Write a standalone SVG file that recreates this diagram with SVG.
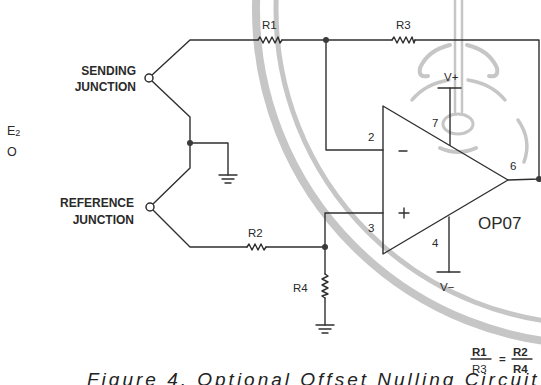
<svg xmlns="http://www.w3.org/2000/svg" width="541" height="385" viewBox="0 0 541 385">
  <style>
    .w { fill: none; stroke: #2f2f2f; stroke-width: 1.4; stroke-linejoin: round; stroke-linecap: round; }
    .dot { fill: #3a3a3a; }
    .jn { fill: #fff; stroke: #2f2f2f; stroke-width: 1.5; }
    .lbl { font-family: "Liberation Sans", Arial, sans-serif; font-weight: bold; font-size: 12px; fill: #2a2a2a; }
    .e2 { font-family: "Liberation Sans", Arial, sans-serif; font-size: 12.5px; fill: #2a2a2a; }
    .t { font-family: "Liberation Sans", Arial, sans-serif; font-size: 11.5px; fill: #2a2a2a; }
    .big { font-family: "Liberation Sans", Arial, sans-serif; font-size: 17px; fill: #2a2a2a; }
    .cap { font-family: "Liberation Sans", Arial, sans-serif; font-style: italic; font-size: 19px; fill: #222; letter-spacing: 3px; }
    .wm { fill: none; stroke: #c6c6c6; stroke-linecap: round; }
  </style>
  <defs>
    <g id="gnd" class="w">
      <line x1="-9" y1="0" x2="9" y2="0"/>
      <line x1="-6" y1="4" x2="6" y2="4"/>
      <line x1="-3" y1="8" x2="3" y2="8"/>
    </g>
  </defs>
  <rect width="541" height="385" fill="#fff"/>

  <!-- faint seal behind the schematic -->
  <g id="seal">
    <circle class="wm" cx="590" cy="10" r="334" stroke-width="8"/>
    <circle class="wm" cx="590" cy="10" r="314" stroke-width="5"/>
    <line class="wm" x1="455" y1="0" x2="455" y2="112" stroke-width="2.5"/>
    <line class="wm" x1="462" y1="0" x2="462" y2="112" stroke-width="2.5"/>
    <ellipse class="wm" cx="458" cy="124" rx="15" ry="10" stroke-width="3"/>
    <path class="wm" d="M440 148 Q458 156 476 148" stroke-width="4"/>
    <path class="wm" d="M450 45 Q428 50 420 68 Q418 78 428 76" stroke-width="4"/>
    <path class="wm" d="M467 45 Q489 50 497 68 Q499 78 489 76" stroke-width="4"/>
    <path class="wm" d="M449 80 Q425 84 412 100" stroke-width="3.5"/>
    <path class="wm" d="M468 80 Q492 84 505 100" stroke-width="3.5"/>
    <path class="wm" d="M518 120 Q532 140 524 162" stroke-width="3.5"/>
  </g>

  <g id="connectors">
    <!-- thermocouple leads -->
    <polyline class="w" points="152,75 190,40 258,40"/>
    <polyline class="w" points="152,81 190,117 190,168 153,204"/>
    <polyline class="w" points="153,210 190,247 247,247"/>
    <polyline class="w" points="190,143 228,143 228,175"/>
    <!-- feedback path -->
    <line class="w" x1="282" y1="40" x2="392" y2="40"/>
    <polyline class="w" points="415,40 539,40 539,179 508,180"/>
    <polyline class="w" points="326,40 326,150 383,150"/>
    <!-- non-inverting input -->
    <line class="w" x1="266" y1="247" x2="325" y2="247"/>
    <polyline class="w" points="383,213 325,213 325,274"/>
    <line class="w" x1="325" y1="298" x2="325" y2="325"/>
    <!-- supply pins -->
    <line class="w" x1="450" y1="88" x2="450" y2="145"/>
    <line class="w" x1="438" y1="88" x2="461" y2="88"/>
    <line class="w" x1="449" y1="217" x2="449" y2="272"/>
    <line class="w" x1="437" y1="272" x2="460" y2="272"/>
  </g>

  <g id="R1">
    <polyline class="w" points="258,40 260,37 263,43 266,37 269,43 272,37 275,43 278,37 280,43 282,40"/>
    <text class="t" x="262" y="29">R1</text>
  </g>
  <g id="R3">
    <polyline class="w" points="392,40 394,37 397,43 400,37 403,43 406,37 409,43 412,37 414,43 415,40"/>
    <text class="t" x="396" y="29">R3</text>
  </g>
  <g id="R2">
    <polyline class="w" points="247,247 249,244 252,250 255,244 258,250 261,244 264,250 266,247"/>
    <text class="t" x="248" y="237">R2</text>
  </g>
  <g id="R4">
    <polyline class="w" points="325,274 328,276 322,279 328,282 322,285 328,288 322,291 328,294 322,296 325,298"/>
    <text class="t" x="293" y="292">R4</text>
  </g>

  <g id="opamp">
    <polygon class="w" points="383,106 508,180 383,254"/>
    <line class="w" x1="399" y1="151" x2="407" y2="151"/>
    <line class="w" x1="399" y1="213" x2="409" y2="213"/>
    <line class="w" x1="404" y1="208" x2="404" y2="218"/>
    <text class="t" x="368" y="141">2</text>
    <text class="t" x="368" y="232">3</text>
    <text class="t" x="432" y="127">7</text>
    <text class="t" x="432" y="247">4</text>
    <text class="t" x="510" y="170">6</text>
    <text class="big" x="478" y="229">OP07</text>
    <text class="t" x="444" y="81">V+</text>
    <text class="t" x="440" y="291">V−</text>
  </g>

  <g id="sending">
    <circle class="jn" cx="149" cy="78" r="4"/>
    <text class="lbl" x="136" y="75" text-anchor="end">SENDING</text>
    <text class="lbl" x="136" y="91" text-anchor="end">JUNCTION</text>
  </g>
  <g id="reference">
    <circle class="jn" cx="150" cy="207" r="4"/>
    <text class="lbl" x="134" y="207" text-anchor="end">REFERENCE</text>
    <text class="lbl" x="134" y="224" text-anchor="end">JUNCTION</text>
  </g>
  <g id="e2">
    <text class="e2" x="7" y="135">E<tspan font-size="9" dy="1">2</tspan></text>
    <text class="e2" x="7" y="156">O</text>
  </g>

  <g id="nodes">
    <circle class="dot" cx="326" cy="40" r="3"/>
    <circle class="dot" cx="190" cy="143" r="3"/>
    <circle class="dot" cx="325" cy="247" r="3"/>
    <circle class="dot" cx="539" cy="179" r="3"/>
  </g>

  <g id="grounds">
    <use href="#gnd" x="228" y="175"/>
    <use href="#gnd" x="325" y="325"/>
  </g>

  <g id="ratio">
    <text class="t" x="472" y="356" font-weight="bold">R1</text>
    <line class="w" x1="471" y1="359" x2="491" y2="359"/>
    <text class="t" x="472" y="373">R3</text>
    <text class="t" x="499" y="363" font-weight="bold">=</text>
    <text class="t" x="513" y="356" font-weight="bold">R2</text>
    <line class="w" x1="512" y1="359" x2="532" y2="359"/>
    <text class="t" x="513" y="373" font-weight="bold">R4</text>
  </g>

  <text class="cap" x="87" y="386">Figure 4. Optional Offset Nulling Circuit</text>
</svg>
